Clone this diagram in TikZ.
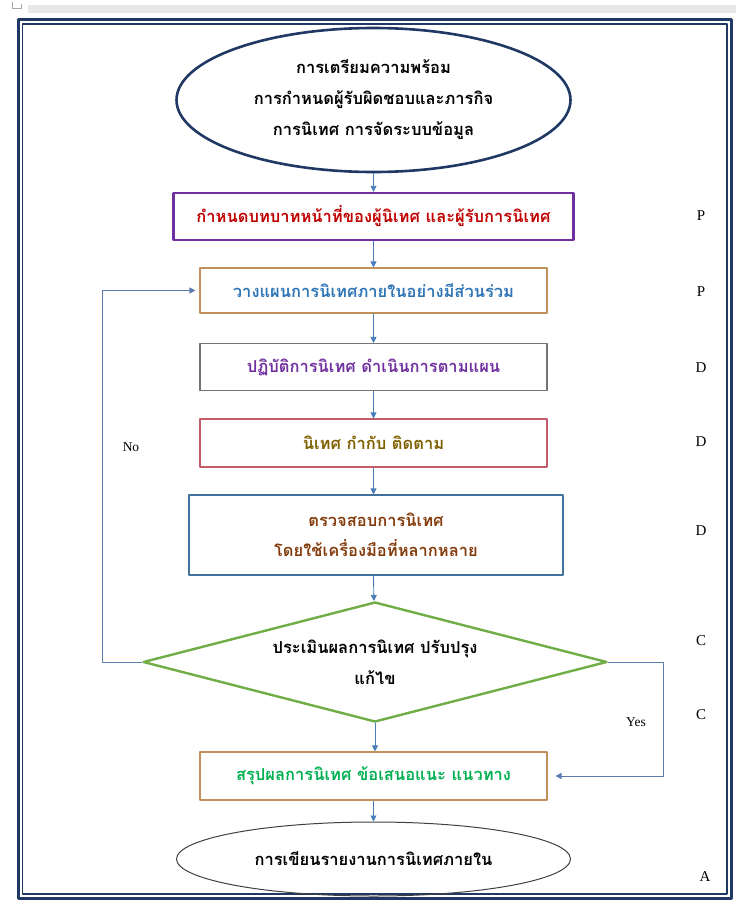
\documentclass[tikz,border=0pt]{standalone}
\usepackage{fontspec}
\setmainfont{Liberation Serif}
\newfontfamily\thaifont[Script=Thai]{Loma}
\usetikzlibrary{shapes.geometric}
\usetikzlibrary{arrows.meta}

\definecolor{navy}{HTML}{1F3864}
\definecolor{flowblue}{HTML}{4A7EBB}
\definecolor{loopblue}{HTML}{5B7BAE}
\definecolor{tan}{HTML}{C0915A}
\definecolor{darkred}{HTML}{C00000}
\definecolor{violet}{HTML}{7030A0}
\definecolor{skyblue}{HTML}{2E75B6}
\definecolor{olive}{HTML}{7F6000}
\definecolor{rose}{HTML}{C55A6A}
\definecolor{steel}{HTML}{41719C}
\definecolor{brown}{HTML}{843C0C}
\definecolor{leaf}{HTML}{70AD47}
\definecolor{grass}{HTML}{00B050}

\begin{document}
\begin{tikzpicture}[x=1pt,y=-1pt,line join=round,
  box/.style={draw,line width=1.1pt,minimum width=347pt,minimum height=47pt,
    inner sep=2pt,align=center,font=\thaifont\bfseries\fontsize{16.5}{30}\selectfont},
  pdca/.style={font=\fontsize{15}{17}\selectfont},
  answer/.style={font=\fontsize{13.5}{15}\selectfont},
  flow/.style={-{Triangle[width=6pt,length=6pt]},line width=0.9pt,flowblue},
  back/.style={-{Triangle[width=6pt,length=6pt]},line width=0.8pt,loopblue},
  ]
  \def\cx{373.5}   % centre line
  \useasboundingbox (0,0) rectangle (736,900);
  % WINDOW AND FRAME
  \fill[gray!18] (28,5) rectangle (736,13);
  \draw[gray!70,line width=0.6pt] (12,2) -- (12,8) -- (21,8) -- (21,4);
  \draw[navy,line width=3pt] (18,19.5) rectangle (731.5,898.5);
  \draw[navy,line width=1.2pt] (22.5,24) rectangle (727,894);
  % START
  \node[ellipse,draw=navy,line width=2.6pt,minimum width=394pt,minimum height=144pt,
    inner sep=0pt,align=center,font=\thaifont\bfseries\fontsize{16.5}{31}\selectfont]
    (prep) at (\cx,100) {การเตรียมความพร้อม\\การกำหนดผู้รับผิดชอบและภารกิจ\\การนิเทศ การจัดระบบข้อมูล};
  % STEPS
  \node[box,draw=violet,line width=2.4pt,minimum width=400pt,text=darkred] (roles) at (\cx,216.5)
    {กำหนดบทบาทหน้าที่ของผู้นิเทศ และผู้รับการนิเทศ};
  \node[box,draw=tan,minimum height=45pt,text=skyblue] (plan) at (\cx,290.5)
    {วางแผนการนิเทศภายในอย่างมีส่วนร่วม};
  \node[box,draw=gray!90!black,text=violet] (act) at (\cx,367)
    {ปฏิบัติการนิเทศ ดำเนินการตามแผน};
  \node[box,draw=rose,minimum height=48pt,text=olive] (follow) at (\cx,443)
    {นิเทศ กำกับ ติดตาม};
  \node[box,draw=steel,minimum width=374pt,minimum height=80pt,text=brown] (inspect) at (376,535)
    {ตรวจสอบการนิเทศ\\โดยใช้เครื่องมือที่หลากหลาย};
  \node[diamond,draw=leaf,line width=2.4pt,aspect=3.9,minimum width=464pt,minimum height=120pt,
    inner sep=0pt,align=center,font=\thaifont\bfseries\fontsize{16.5}{31}\selectfont]
    (assess) at (375,662) {ประเมินผลการนิเทศ ปรับปรุง\\แก้ไข};
  \node[box,draw=tan,minimum height=48pt,text=grass] (sum) at (\cx,776)
    {สรุปผลการนิเทศ ข้อเสนอแนะ แนวทาง};
  \node[ellipse,draw=darkgray,line width=1pt,minimum width=394pt,minimum height=74pt,
    inner sep=0pt,font=\thaifont\bfseries\fontsize{16.5}{18}\selectfont]
    (report) at (\cx,859) {การเขียนรายงานการนิเทศภายใน};
  % ARROWS
  \draw[flow] (prep) -- (roles);
  \draw[flow] (roles) -- (plan);
  \draw[flow] (plan) -- (act);
  \draw[flow] (act) -- (follow);
  \draw[flow] (follow) -- (inspect.north -| follow);
  \draw[flow] (inspect.south -| follow) -- (assess);
  \draw[flow] (assess) -- (sum.north -| assess);
  \draw[flow] (sum) -- (report);
  \coordinate (nocorner) at (102,662);
  \coordinate (yescorner) at (663,662);
  \draw[back,shorten >=4pt] (assess.west) -- (nocorner) |- (plan.west);
  \draw[back,shorten >=8pt] (assess.east) -- (yescorner) |- (sum.east);
  \node[answer] (no) at (131,447) {No};
  \node[answer] (yes) at (636,722) {Yes};
  % PDCA LETTERS
  \node[pdca] (p1) at (701,216) {P};
  \node[pdca] (p2) at (701,292) {P};
  \node[pdca] (d1) at (701,368) {D};
  \node[pdca] (d2) at (701,442) {D};
  \node[pdca] (d3) at (701,531) {D};
  \node[pdca] (c1) at (701,641) {C};
  \node[pdca] (c2) at (701,715) {C};
  \node[pdca] (a1) at (705,877) {A};
\end{tikzpicture}
\end{document}
